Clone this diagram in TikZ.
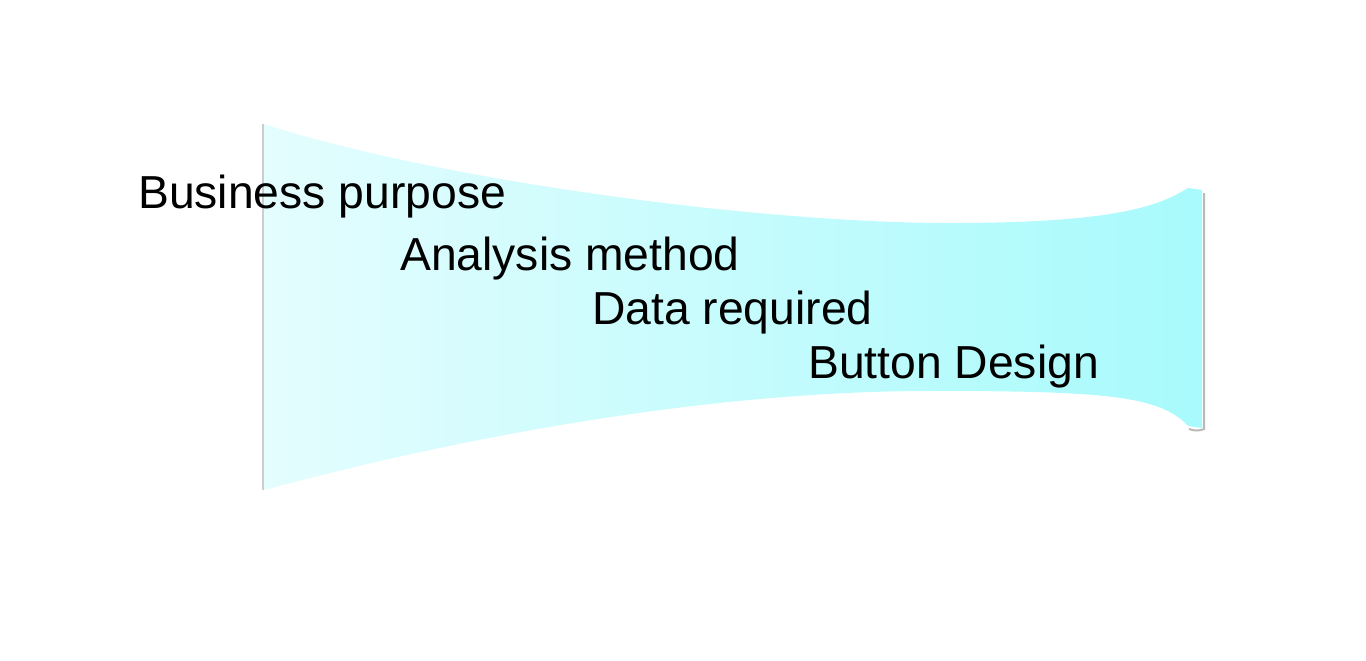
\documentclass[tikz,border=0pt]{standalone}
\usepackage{fontspec}
\setmainfont{Liberation Sans}
\usepackage{tikz}

\definecolor{funnelleft}{RGB}{228,253,254}
\definecolor{funnelright}{RGB}{168,250,252}
\tikzset{steplabel/.style={anchor=base west,inner sep=0pt,font=\fontsize{34.7}{42}\selectfont}}

\begin{document}
\begin{tikzpicture}[x=0.75pt,y=0.75pt,yscale=-1,xscale=1]
%set diagram left start at 0, and has height of 660
\useasboundingbox (0,0) rectangle (1366,660);

%Shape: Funnel shadow
\draw [color={rgb, 255:red, 185; green, 185; blue, 185 }, line width=1.5] (1204,193) -- (1204,429) .. controls (1200,431) and (1194,431) .. (1189,429) ;
%Shape: Funnel
\shade [left color=funnelleft, right color=funnelright] (264,124) .. controls (430,178) and (750,223) .. (950,223) .. controls (1120,223) and (1160,205) .. (1188,188) -- (1202,190) -- (1202,428) -- (1188,426) .. controls (1160,395) and (1100,391) .. (930,391) .. controls (700,391) and (450,440) .. (264,490) -- cycle ;
%Straight Lines
\draw [color={rgb, 255:red, 205; green, 205; blue, 205 }, line width=1.2] (263,124) -- (263,490) ;

% Text Node
\draw (138,208) node [steplabel] (bizpurpose) {Business purpose};
% Text Node
\draw (400,270) node [steplabel] (method) {Analysis method};
% Text Node
\draw (592,324) node [steplabel] (datareq) {Data required};
% Text Node
\draw (808,378) node [steplabel] (button) {Button Design};

\end{tikzpicture}
\end{document}
